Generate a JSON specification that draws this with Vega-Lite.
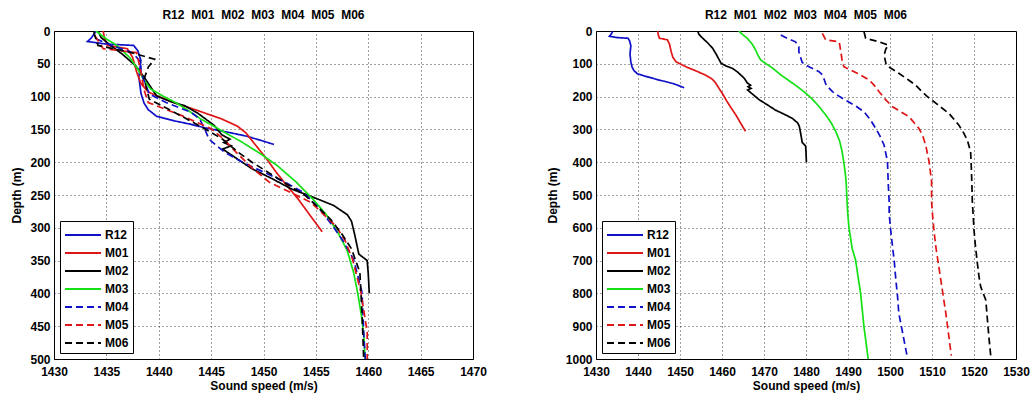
{
"$schema": "https://vega.github.io/schema/vega-lite/v6.json",
"background": "white",
"padding": {"left": 10, "top": 8, "right": 0, "bottom": 2},
"config": {
  "font": "Liberation Sans",
  "view": {"stroke": "black", "strokeWidth": 1},
  "axis": {"labelFont": "Liberation Sans", "labelFontSize": 12, "labelFontWeight": "bold", "labelColor": "black", "titleFont": "Liberation Sans", "titleFontSize": 12, "titleFontWeight": "bold", "titleColor": "black", "grid": true, "gridColor": "#000000", "gridDash": [1, 3], "gridOpacity": 0.75, "domain": false, "ticks": false, "labelPadding": 4, "titlePadding": 6, "format": "d", "labelOverlap": false, "labelFlush": false},
  "axisX": {"labelPadding": 7, "titlePadding": 3},
  "title": {"font": "Liberation Sans", "fontSize": 12, "fontWeight": "bold", "color": "black", "offset": 3},
  "legend": {"orient": "bottom-left", "offset": 6, "strokeColor": "black", "fillColor": "white", "padding": 4, "symbolType": "M-1,0L3,0", "symbolSize": 324, "symbolStrokeWidth": 2, "labelFont": "Liberation Sans", "labelFontSize": 12, "labelFontWeight": "bold", "labelColor": "black", "rowPadding": 2, "labelOffset": 21},
  "concat": {"spacing": 58}
},
"datasets": {"sv": [
{"s":"R12","d":0,"c":1434.0,"c2":1434.0},{"s":"R12","d":10,"c":1433.6,"c2":1433.6},{"s":"R12","d":16,"c":1433.2,"c2":1433.2},{"s":"R12","d":20,"c":1435.0,"c2":1435.0},{"s":"R12","d":22,"c":1437.6,"c2":1437.6},{"s":"R12","d":30,"c":1438.0,"c2":1438.0},{"s":"R12","d":45,"c":1438.3,"c2":1438.3},{"s":"R12","d":70,"c":1438.1,"c2":1438.1},{"s":"R12","d":95,"c":1438.3,"c2":1438.3},{"s":"R12","d":110,"c":1438.6,"c2":1438.6},{"s":"R12","d":120,"c":1439.0,"c2":1439.0},{"s":"R12","d":130,"c":1439.8,"c2":1439.8},{"s":"R12","d":137,"c":1441.5,"c2":1441.5},{"s":"R12","d":142,"c":1443.0,"c2":1443.0},{"s":"R12","d":148,"c":1444.5,"c2":1444.5},{"s":"R12","d":154,"c":1446.5,"c2":1446.5},{"s":"R12","d":160,"c":1448.3,"c2":1448.3},{"s":"R12","d":166,"c":1449.6,"c2":1449.6},{"s":"R12","d":173,"c":1451.0,"c2":1451.0},
{"s":"M01","d":0,"c":1434.7,"c2":1444.7},{"s":"M01","d":10,"c":1434.8,"c2":1444.8},{"s":"M01","d":22,"c":1435.1,"c2":1445.1},{"s":"M01","d":27,"c":1437.0,"c2":1447.0},{"s":"M01","d":40,"c":1437.5,"c2":1447.5},{"s":"M01","d":63,"c":1437.9,"c2":1447.9},{"s":"M01","d":80,"c":1438.3,"c2":1448.3},{"s":"M01","d":93,"c":1439.0,"c2":1449.0},{"s":"M01","d":100,"c":1440.0,"c2":1450.0},{"s":"M01","d":109,"c":1441.4,"c2":1451.4},{"s":"M01","d":120,"c":1443.5,"c2":1453.5},{"s":"M01","d":134,"c":1446.0,"c2":1456.0},{"s":"M01","d":145,"c":1447.5,"c2":1457.5},{"s":"M01","d":155,"c":1448.3,"c2":1458.3},{"s":"M01","d":175,"c":1449.3,"c2":1459.3},{"s":"M01","d":195,"c":1450.3,"c2":1460.3},{"s":"M01","d":215,"c":1451.2,"c2":1461.2},{"s":"M01","d":235,"c":1452.2,"c2":1462.2},{"s":"M01","d":256,"c":1453.3,"c2":1463.3},{"s":"M01","d":280,"c":1454.4,"c2":1464.4},{"s":"M01","d":306,"c":1455.6,"c2":1465.6},
{"s":"M02","d":0,"c":1434.2,"c2":1454.2},{"s":"M02","d":10,"c":1434.5,"c2":1454.5},{"s":"M02","d":22,"c":1435.4,"c2":1455.4},{"s":"M02","d":35,"c":1436.5,"c2":1456.5},{"s":"M02","d":53,"c":1437.8,"c2":1457.8},{"s":"M02","d":75,"c":1438.8,"c2":1458.8},{"s":"M02","d":99,"c":1439.8,"c2":1459.8},{"s":"M02","d":108,"c":1441.2,"c2":1461.2},{"s":"M02","d":114,"c":1442.5,"c2":1462.5},{"s":"M02","d":125,"c":1443.7,"c2":1463.7},{"s":"M02","d":144,"c":1445.3,"c2":1465.3},{"s":"M02","d":158,"c":1446.0,"c2":1466.0},{"s":"M02","d":165,"c":1446.8,"c2":1466.8},{"s":"M02","d":170,"c":1446.2,"c2":1466.2},{"s":"M02","d":175,"c":1446.9,"c2":1466.9},{"s":"M02","d":180,"c":1446.1,"c2":1466.1},{"s":"M02","d":195,"c":1447.5,"c2":1467.5},{"s":"M02","d":210,"c":1448.9,"c2":1468.9},{"s":"M02","d":225,"c":1450.8,"c2":1470.8},{"s":"M02","d":241,"c":1452.7,"c2":1472.7},{"s":"M02","d":255,"c":1455.0,"c2":1475.0},{"s":"M02","d":266,"c":1456.7,"c2":1476.7},{"s":"M02","d":280,"c":1458.0,"c2":1478.0},{"s":"M02","d":290,"c":1458.4,"c2":1478.4},{"s":"M02","d":310,"c":1458.7,"c2":1478.7},{"s":"M02","d":340,"c":1459.1,"c2":1479.1},{"s":"M02","d":350,"c":1459.9,"c2":1479.9},{"s":"M02","d":370,"c":1460.0,"c2":1480.0},{"s":"M02","d":400,"c":1460.1,"c2":1480.1},
{"s":"M03","d":0,"c":1434.0,"c2":1464.0},{"s":"M03","d":12,"c":1435.0,"c2":1465.0},{"s":"M03","d":22,"c":1436.0,"c2":1466.0},{"s":"M03","d":40,"c":1437.2,"c2":1467.2},{"s":"M03","d":58,"c":1438.0,"c2":1468.0},{"s":"M03","d":75,"c":1438.6,"c2":1468.6},{"s":"M03","d":88,"c":1439.2,"c2":1469.2},{"s":"M03","d":100,"c":1440.5,"c2":1470.5},{"s":"M03","d":109,"c":1441.6,"c2":1471.6},{"s":"M03","d":120,"c":1442.7,"c2":1472.7},{"s":"M03","d":134,"c":1444.0,"c2":1474.0},{"s":"M03","d":150,"c":1445.8,"c2":1475.8},{"s":"M03","d":170,"c":1448.0,"c2":1478.0},{"s":"M03","d":188,"c":1449.8,"c2":1479.8},{"s":"M03","d":205,"c":1451.3,"c2":1481.3},{"s":"M03","d":230,"c":1453.1,"c2":1483.1},{"s":"M03","d":256,"c":1454.7,"c2":1484.7},{"s":"M03","d":280,"c":1456.0,"c2":1486.0},{"s":"M03","d":307,"c":1457.1,"c2":1487.1},{"s":"M03","d":335,"c":1458.0,"c2":1488.0},{"s":"M03","d":368,"c":1458.6,"c2":1488.6},{"s":"M03","d":400,"c":1459.0,"c2":1489.0},{"s":"M03","d":439,"c":1459.4,"c2":1489.4},{"s":"M03","d":470,"c":1459.6,"c2":1489.6},{"s":"M03","d":500,"c":1459.7,"c2":1489.7},{"s":"M03","d":550,"c":1459.9,"c2":1489.9},{"s":"M03","d":597,"c":1460.2,"c2":1490.2},{"s":"M03","d":630,"c":1460.6,"c2":1490.6},{"s":"M03","d":663,"c":1461.0,"c2":1491.0},{"s":"M03","d":698,"c":1461.8,"c2":1491.8},{"s":"M03","d":750,"c":1462.4,"c2":1492.4},{"s":"M03","d":800,"c":1463.0,"c2":1493.0},{"s":"M03","d":850,"c":1463.4,"c2":1493.4},{"s":"M03","d":902,"c":1463.8,"c2":1493.8},{"s":"M03","d":950,"c":1464.3,"c2":1494.3},{"s":"M03","d":1000,"c":1464.8,"c2":1494.8},
{"s":"M04","d":12,"c":1434.0,"c2":1474.0},{"s":"M04","d":22,"c":1435.5,"c2":1475.5},{"s":"M04","d":33,"c":1437.5,"c2":1477.5},{"s":"M04","d":48,"c":1438.3,"c2":1478.3},{"s":"M04","d":63,"c":1438.3,"c2":1478.3},{"s":"M04","d":80,"c":1438.7,"c2":1478.7},{"s":"M04","d":96,"c":1439.1,"c2":1479.1},{"s":"M04","d":109,"c":1440.7,"c2":1480.7},{"s":"M04","d":124,"c":1443.1,"c2":1483.1},{"s":"M04","d":134,"c":1443.9,"c2":1483.9},{"s":"M04","d":150,"c":1444.4,"c2":1484.4},{"s":"M04","d":165,"c":1444.8,"c2":1484.8},{"s":"M04","d":185,"c":1446.3,"c2":1486.3},{"s":"M04","d":200,"c":1448.0,"c2":1488.0},{"s":"M04","d":215,"c":1450.0,"c2":1490.0},{"s":"M04","d":230,"c":1452.0,"c2":1492.0},{"s":"M04","d":246,"c":1453.8,"c2":1493.8},{"s":"M04","d":270,"c":1455.3,"c2":1495.3},{"s":"M04","d":297,"c":1456.6,"c2":1496.6},{"s":"M04","d":320,"c":1457.6,"c2":1497.6},{"s":"M04","d":348,"c":1458.6,"c2":1498.6},{"s":"M04","d":398,"c":1459.4,"c2":1499.4},{"s":"M04","d":470,"c":1459.6,"c2":1499.6},{"s":"M04","d":520,"c":1459.8,"c2":1499.8},{"s":"M04","d":556,"c":1459.8,"c2":1499.8},{"s":"M04","d":600,"c":1460.1,"c2":1500.1},{"s":"M04","d":657,"c":1460.6,"c2":1500.6},{"s":"M04","d":700,"c":1461.0,"c2":1501.0},{"s":"M04","d":759,"c":1461.4,"c2":1501.4},{"s":"M04","d":810,"c":1461.8,"c2":1501.8},{"s":"M04","d":861,"c":1462.1,"c2":1502.1},{"s":"M04","d":920,"c":1463.0,"c2":1503.0},{"s":"M04","d":993,"c":1464.1,"c2":1504.1},
{"s":"M05","d":7,"c":1433.9,"c2":1483.9},{"s":"M05","d":27,"c":1434.7,"c2":1484.7},{"s":"M05","d":33,"c":1437.9,"c2":1487.9},{"s":"M05","d":63,"c":1438.3,"c2":1488.3},{"s":"M05","d":90,"c":1438.6,"c2":1488.6},{"s":"M05","d":109,"c":1439.0,"c2":1489.0},{"s":"M05","d":129,"c":1442.2,"c2":1492.2},{"s":"M05","d":149,"c":1445.0,"c2":1495.0},{"s":"M05","d":165,"c":1446.2,"c2":1496.2},{"s":"M05","d":185,"c":1447.4,"c2":1497.4},{"s":"M05","d":210,"c":1449.0,"c2":1499.0},{"s":"M05","d":231,"c":1450.6,"c2":1500.6},{"s":"M05","d":261,"c":1454.5,"c2":1504.5},{"s":"M05","d":297,"c":1456.9,"c2":1506.9},{"s":"M05","d":320,"c":1457.8,"c2":1507.8},{"s":"M05","d":348,"c":1458.5,"c2":1508.5},{"s":"M05","d":398,"c":1459.3,"c2":1509.3},{"s":"M05","d":459,"c":1459.9,"c2":1509.9},{"s":"M05","d":520,"c":1459.9,"c2":1509.9},{"s":"M05","d":556,"c":1460.1,"c2":1510.1},{"s":"M05","d":600,"c":1460.4,"c2":1510.4},{"s":"M05","d":657,"c":1460.9,"c2":1510.9},{"s":"M05","d":700,"c":1461.4,"c2":1511.4},{"s":"M05","d":759,"c":1462.1,"c2":1512.1},{"s":"M05","d":810,"c":1462.7,"c2":1512.7},{"s":"M05","d":861,"c":1463.3,"c2":1513.3},{"s":"M05","d":920,"c":1463.9,"c2":1513.9},{"s":"M05","d":990,"c":1464.6,"c2":1514.6},
{"s":"M06","d":2,"c":1433.8,"c2":1493.8},{"s":"M06","d":22,"c":1434.2,"c2":1494.2},{"s":"M06","d":33,"c":1437.4,"c2":1497.4},{"s":"M06","d":43,"c":1439.6,"c2":1499.6},{"s":"M06","d":55,"c":1439.0,"c2":1499.0},{"s":"M06","d":73,"c":1438.6,"c2":1498.6},{"s":"M06","d":104,"c":1439.1,"c2":1499.1},{"s":"M06","d":129,"c":1442.1,"c2":1502.1},{"s":"M06","d":150,"c":1444.5,"c2":1504.5},{"s":"M06","d":165,"c":1446.1,"c2":1506.1},{"s":"M06","d":185,"c":1447.6,"c2":1507.6},{"s":"M06","d":200,"c":1448.9,"c2":1508.9},{"s":"M06","d":220,"c":1450.9,"c2":1510.9},{"s":"M06","d":251,"c":1454.0,"c2":1514.0},{"s":"M06","d":270,"c":1455.3,"c2":1515.3},{"s":"M06","d":287,"c":1456.4,"c2":1516.4},{"s":"M06","d":310,"c":1457.5,"c2":1517.5},{"s":"M06","d":332,"c":1458.4,"c2":1518.4},{"s":"M06","d":368,"c":1459.2,"c2":1519.2},{"s":"M06","d":429,"c":1459.4,"c2":1519.4},{"s":"M06","d":470,"c":1459.5,"c2":1519.5},{"s":"M06","d":520,"c":1459.6,"c2":1519.6},{"s":"M06","d":560,"c":1459.8,"c2":1519.8},{"s":"M06","d":607,"c":1460.0,"c2":1520.0},{"s":"M06","d":650,"c":1460.3,"c2":1520.3},{"s":"M06","d":708,"c":1460.8,"c2":1520.8},{"s":"M06","d":750,"c":1461.2,"c2":1521.2},{"s":"M06","d":780,"c":1461.6,"c2":1521.6},{"s":"M06","d":820,"c":1462.8,"c2":1522.8},{"s":"M06","d":850,"c":1463.0,"c2":1523.0},{"s":"M06","d":881,"c":1463.2,"c2":1523.2},{"s":"M06","d":940,"c":1463.6,"c2":1523.6},{"s":"M06","d":993,"c":1464.0,"c2":1524.0}
]},
"hconcat": [
 {
  "width": 419, "height": 328,
  "title": "R12\u00a0\u00a0M01\u00a0\u00a0M02\u00a0\u00a0M03\u00a0\u00a0M04\u00a0\u00a0M05\u00a0\u00a0M06",
  "data": {"name": "sv"},
  "mark": {"type": "line", "clip": true, "strokeWidth": 1.7},
  "encoding": {
   "x": {"field": "c", "type": "quantitative", "scale": {"domain": [1430, 1470], "nice": false, "zero": false}, "axis": {"title": "Sound speed (m/s)", "values": [1430, 1435, 1440, 1445, 1450, 1455, 1460, 1465, 1470]}},
   "y": {"field": "d", "type": "quantitative", "scale": {"domain": [0, 500], "reverse": true, "nice": false}, "axis": {"title": "Depth (m)", "values": [0, 50, 100, 150, 200, 250, 300, 350, 400, 450, 500]}},
   "color": {"field": "s", "type": "nominal", "title": null, "scale": {"domain": ["R12", "M01", "M02", "M03", "M04", "M05", "M06"], "range": ["#1010c8", "#e01515", "#000000", "#15e015", "#1010c8", "#e01515", "#000000"]}},
   "strokeDash": {"field": "s", "type": "nominal", "title": null, "scale": {"domain": ["R12", "M01", "M02", "M03", "M04", "M05", "M06"], "range": [[1, 0], [1, 0], [1, 0], [1, 0], [7, 4], [7, 4], [7, 4]]}},
   "order": {"field": "d", "type": "quantitative"}
  }
 },
 {
  "width": 420, "height": 328,
  "title": "R12\u00a0\u00a0M01\u00a0\u00a0M02\u00a0\u00a0M03\u00a0\u00a0M04\u00a0\u00a0M05\u00a0\u00a0M06",
  "data": {"name": "sv"},
  "mark": {"type": "line", "clip": true, "strokeWidth": 1.7},
  "encoding": {
   "x": {"field": "c2", "type": "quantitative", "scale": {"domain": [1430, 1530], "nice": false, "zero": false}, "axis": {"title": "Sound speed (m/s)", "values": [1430, 1440, 1450, 1460, 1470, 1480, 1490, 1500, 1510, 1520, 1530]}},
   "y": {"field": "d", "type": "quantitative", "scale": {"domain": [0, 1000], "reverse": true, "nice": false}, "axis": {"title": "Depth (m)", "values": [0, 100, 200, 300, 400, 500, 600, 700, 800, 900, 1000]}},
   "color": {"field": "s", "type": "nominal", "title": null, "scale": {"domain": ["R12", "M01", "M02", "M03", "M04", "M05", "M06"], "range": ["#1010c8", "#e01515", "#000000", "#15e015", "#1010c8", "#e01515", "#000000"]}},
   "strokeDash": {"field": "s", "type": "nominal", "title": null, "scale": {"domain": ["R12", "M01", "M02", "M03", "M04", "M05", "M06"], "range": [[1, 0], [1, 0], [1, 0], [1, 0], [7, 4], [7, 4], [7, 4]]}},
   "order": {"field": "d", "type": "quantitative"}
  }
 }
],
"resolve": {"scale": {"x": "independent", "y": "independent", "color": "independent", "strokeDash": "independent"}, "legend": {"color": "independent", "strokeDash": "independent"}}
}
